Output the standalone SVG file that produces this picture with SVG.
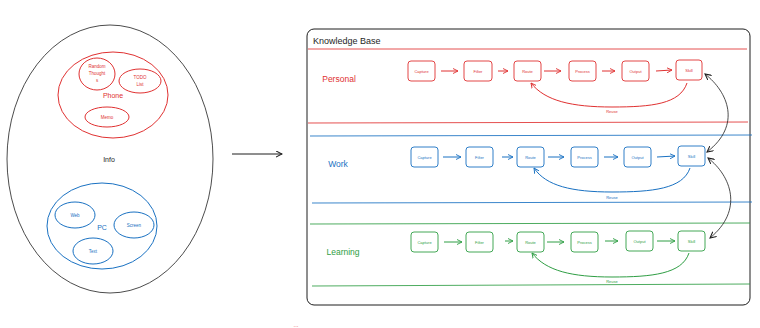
<svg xmlns="http://www.w3.org/2000/svg" width="760" height="328" viewBox="0 0 760 328">
<style>
text{font-family:"Liberation Sans",Arial,sans-serif;text-anchor:middle;dominant-baseline:central}
.r{stroke:#e03131;fill:none}
.b{stroke:#1971c2;fill:none}
.g{stroke:#2f9e44;fill:none}
.k{stroke:#1e1e1e;fill:none}
.rt{fill:#e03131}
.bt{fill:#1971c2}
.gt{fill:#2f9e44}
.kt{fill:#1e1e1e}
.box{stroke-width:0.9}
.lbl{font-size:4px}
.lane{stroke-width:1;stroke-opacity:0.85}
</style>
<defs>
<marker id="ar" viewBox="0 0 8 8" refX="7" refY="4" markerWidth="6" markerHeight="6" markerUnits="userSpaceOnUse" orient="auto-start-reverse"><path d="M0,0.5 L7,4 L0,7.5" fill="none" stroke="#e03131" stroke-width="1.2"/></marker>
<marker id="ab" viewBox="0 0 8 8" refX="7" refY="4" markerWidth="6" markerHeight="6" markerUnits="userSpaceOnUse" orient="auto-start-reverse"><path d="M0,0.5 L7,4 L0,7.5" fill="none" stroke="#1971c2" stroke-width="1.2"/></marker>
<marker id="ag" viewBox="0 0 8 8" refX="7" refY="4" markerWidth="6" markerHeight="6" markerUnits="userSpaceOnUse" orient="auto-start-reverse"><path d="M0,0.5 L7,4 L0,7.5" fill="none" stroke="#2f9e44" stroke-width="1.2"/></marker>
<marker id="ak" viewBox="0 0 8 8" refX="7" refY="4" markerWidth="7" markerHeight="7" markerUnits="userSpaceOnUse" orient="auto-start-reverse"><path d="M0,0.5 L7,4 L0,7.5" fill="none" stroke="#1e1e1e" stroke-width="1.2"/></marker>
</defs>

<g id="info">
<ellipse class="k" cx="110" cy="159" rx="103" ry="134" stroke-width="0.8"/>
<text x="109" y="159" font-size="7" fill="#1e1e1e">Info</text>
</g>
<g id="phone">
<ellipse class="r" cx="113" cy="95" rx="55" ry="43"/>
<text class="rt" x="113" y="95" font-size="7">Phone</text>
</g>
<g id="random-thoughts">
<ellipse class="r" cx="97" cy="74" rx="18" ry="16"/>
<text class="rt" x="97" y="66" font-size="4.5">Random</text>
<text class="rt" x="97" y="73" font-size="4.5">Thought</text>
<text class="rt" x="97" y="80" font-size="4.5">s</text>
</g>
<g id="todo-list">
<ellipse class="r" cx="140" cy="81" rx="21" ry="12"/>
<text class="rt" x="140" y="77" font-size="4.5">TODO</text>
<text class="rt" x="140" y="84" font-size="4.5">List</text>
</g>
<g id="memo">
<ellipse class="r" cx="107" cy="117" rx="22" ry="10"/>
<text class="rt" x="107" y="117" font-size="4.5">Memo</text>
</g>
<g id="pc">
<ellipse class="b" cx="102" cy="226" rx="55" ry="43"/>
<text class="bt" x="102" y="227" font-size="7">PC</text>
</g>
<g id="web">
<ellipse class="b" cx="75" cy="215" rx="20" ry="13"/>
<text class="bt" x="75" y="215" font-size="4.5">Web</text>
</g>
<g id="screen">
<ellipse class="b" cx="134" cy="225" rx="20" ry="13"/>
<text class="bt" x="134" y="225" font-size="4.5">Screen</text>
</g>
<g id="text-node">
<ellipse class="b" cx="93" cy="251" rx="20" ry="13"/>
<text class="bt" x="93" y="251" font-size="4.5">Text</text>
</g>

<g id="knowledge-base">
<rect class="k" x="307" y="29" width="443" height="276" rx="7" stroke-width="1"/>
<text class="kt" x="313" y="41" font-size="9" style="text-anchor:start">Knowledge Base</text>
</g>

<g id="lane-personal">
<line class="r lane" x1="308" y1="49" x2="747" y2="49"/>
<line class="r lane" x1="308" y1="123" x2="748" y2="122"/>
<text class="rt" x="339" y="79" font-size="8.5">Personal</text>
</g>
<g id="lane-work">
<line class="b lane" x1="310" y1="136" x2="752" y2="135"/>
<line class="b lane" x1="312" y1="203" x2="752" y2="202"/>
<text class="bt" x="338" y="164" font-size="8.5">Work</text>
</g>
<g id="lane-learning">
<line class="g lane" x1="310" y1="224" x2="750" y2="223"/>
<line class="g lane" x1="312" y1="286" x2="750" y2="284"/>
<text class="gt" x="343" y="252" font-size="8.5">Learning</text>
</g>

<g id="p-capture"><rect class="r box" x="408" y="61" width="27" height="20" rx="3"/><text class="rt lbl" x="421.5" y="71">Capture</text></g>
<g id="p-filter"><rect class="r box" x="464" y="61" width="28" height="20" rx="3"/><text class="rt lbl" x="478" y="71">Filter</text></g>
<g id="p-route"><rect class="r box" x="514" y="61" width="27" height="20" rx="3"/><text class="rt lbl" x="527.5" y="71">Route</text></g>
<g id="p-process"><rect class="r box" x="569" y="61" width="27" height="20" rx="3"/><text class="rt lbl" x="582.5" y="71">Process</text></g>
<g id="p-output"><rect class="r box" x="622" y="61" width="27" height="20" rx="3"/><text class="rt lbl" x="635.5" y="71">Output</text></g>
<g id="p-skill"><rect class="r box" x="676" y="60" width="26" height="20" rx="3"/><text class="rt lbl" x="689" y="70">Skill</text></g>

<g id="w-capture"><rect class="b box" x="411" y="147" width="27" height="20" rx="3"/><text class="bt lbl" x="424.5" y="157">Capture</text></g>
<g id="w-filter"><rect class="b box" x="466" y="147" width="27" height="20" rx="3"/><text class="bt lbl" x="479.5" y="157">Filter</text></g>
<g id="w-route"><rect class="b box" x="517" y="147" width="27" height="20" rx="3"/><text class="bt lbl" x="530.5" y="157">Route</text></g>
<g id="w-process"><rect class="b box" x="571" y="147" width="27" height="20" rx="3"/><text class="bt lbl" x="584.5" y="157">Process</text></g>
<g id="w-output"><rect class="b box" x="624" y="147" width="27" height="20" rx="3"/><text class="bt lbl" x="637.5" y="157">Output</text></g>
<g id="w-skill"><rect class="b box" x="678" y="146" width="27" height="20" rx="3"/><text class="bt lbl" x="691.5" y="156">Skill</text></g>

<g id="l-capture"><rect class="g box" x="411" y="232" width="27" height="20" rx="3"/><text class="gt lbl" x="424.5" y="242">Capture</text></g>
<g id="l-filter"><rect class="g box" x="466" y="232" width="27" height="20" rx="3"/><text class="gt lbl" x="479.5" y="242">Filter</text></g>
<g id="l-route"><rect class="g box" x="517" y="232" width="27" height="20" rx="3"/><text class="gt lbl" x="530.5" y="242">Route</text></g>
<g id="l-process"><rect class="g box" x="571" y="232" width="27" height="20" rx="3"/><text class="gt lbl" x="584.5" y="242">Process</text></g>
<g id="l-output"><rect class="g box" x="626" y="231" width="27" height="20" rx="3"/><text class="gt lbl" x="639.5" y="241">Output</text></g>
<g id="l-skill"><rect class="g box" x="678" y="231" width="27" height="20" rx="3"/><text class="gt lbl" x="691.5" y="241">Skill</text></g>

<g id="connectors">
<line class="k" x1="232" y1="154" x2="282" y2="154" stroke-width="1" marker-end="url(#ak)"/>

<line class="r" x1="441" y1="71" x2="458" y2="71" marker-end="url(#ar)"/>
<line class="r" x1="498" y1="71" x2="508" y2="71" marker-end="url(#ar)"/>
<line class="r" x1="544" y1="71" x2="561" y2="71" marker-end="url(#ar)"/>
<line class="r" x1="602" y1="71" x2="615" y2="71" marker-end="url(#ar)"/>
<line class="r" x1="656" y1="71" x2="672" y2="70" marker-end="url(#ar)"/>
<path class="r" d="M687,83 C680,104 652,107 612,107 C572,107 545,101 531,83" marker-end="url(#ar)"/>
<text class="rt lbl" x="612" y="111">Reuse</text>

<line class="b" x1="443" y1="157" x2="461" y2="157" marker-end="url(#ab)"/>
<line class="b" x1="502" y1="157" x2="513" y2="157" marker-end="url(#ab)"/>
<line class="b" x1="548" y1="157" x2="564" y2="157" marker-end="url(#ab)"/>
<line class="b" x1="604" y1="157" x2="618" y2="157" marker-end="url(#ab)"/>
<line class="b" x1="657" y1="157" x2="675" y2="156" marker-end="url(#ab)"/>
<path class="b" d="M690,168 C683,189 652,192 612,192 C572,192 546,186 534,168" marker-end="url(#ab)"/>
<text class="bt lbl" x="612" y="197">Reuse</text>

<line class="g" x1="444" y1="242" x2="462" y2="242" marker-end="url(#ag)"/>
<line class="g" x1="505" y1="241" x2="513" y2="241" marker-end="url(#ag)"/>
<line class="g" x1="547" y1="242" x2="564" y2="242" marker-end="url(#ag)"/>
<line class="g" x1="605" y1="241" x2="618" y2="241" marker-end="url(#ag)"/>
<line class="g" x1="657" y1="241" x2="675" y2="241" marker-end="url(#ag)"/>
<path class="g" d="M689,253 C682,274 652,277 612,277 C572,277 546,271 532,253" marker-end="url(#ag)"/>
<text class="gt lbl" x="612" y="281">Reuse</text>

<path class="k" d="M705,74 C728,92 742,125 707,152" stroke-width="0.8" marker-start="url(#ak)" marker-end="url(#ak)"/>
<path class="k" d="M708,158 C731,176 744,210 710,238" stroke-width="0.8" marker-start="url(#ak)" marker-end="url(#ak)"/>
</g>
<text x="296" y="325" font-size="6" fill="#e03131">...</text>
</svg>
